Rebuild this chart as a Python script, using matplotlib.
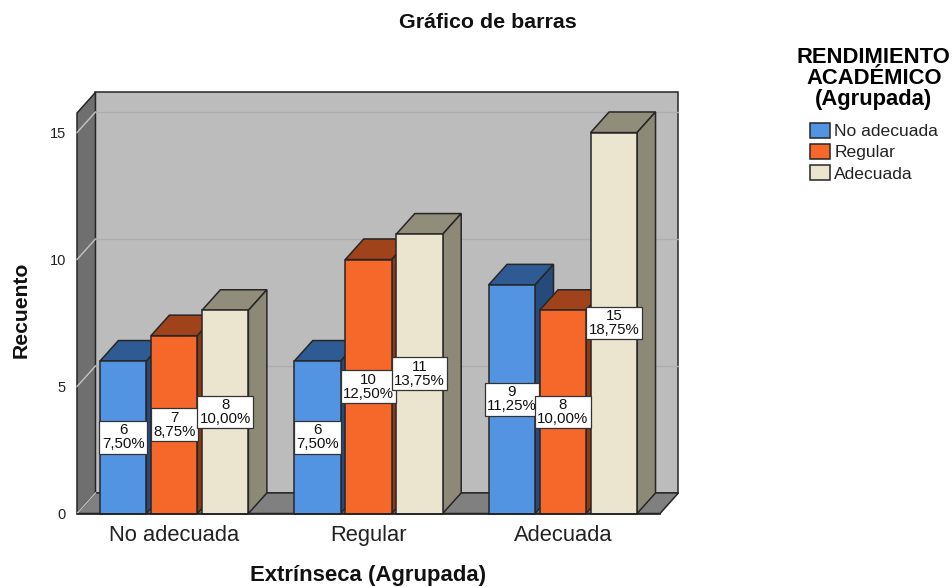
import matplotlib
matplotlib.use("Agg")
import matplotlib.pyplot as plt
from matplotlib.patches import Polygon, Patch

plt.rcParams['font.family'] = ['Liberation Sans', 'DejaVu Sans']

categories = ["No adecuada", "Regular", "Adecuada"]
series_names = ["No adecuada", "Regular", "Adecuada"]
no_adecuada = [6, 6, 9]
regular = [7, 10, 8]
adecuada = [8, 11, 15]
pct_no_adecuada = ["7,50%", "7,50%", "11,25%"]
pct_regular = ["8,75%", "12,50%", "10,00%"]
pct_adecuada = ["10,00%", "13,75%", "18,75%"]
y_ticks = [0, 5, 10, 15]

W, H = 953, 587
fig = plt.figure(figsize=(W / 100, H / 100), dpi=100)
ax = fig.add_axes([77 / W, 1 - 513.5 / H, 583 / W, 400.5 / H])
XMIN, XMAX, YMAX = -0.5, 2.5, 15.77
ax.set_xlim(XMIN, XMAX)
ax.set_ylim(0, YMAX)
for s in ax.spines.values():
    s.set_visible(False)

DX, DY = 0.095, 0.81          # depth of the pseudo-3D projection, in data units
BAR_W, BAR_STEP = 0.239, 0.2625
EDGE = "#262626"
LW = 1.1

def poly(points, fc, z, ec=EDGE, lw=LW):
    ax.add_patch(Polygon(points, closed=True, facecolor=fc, edgecolor=ec,
                         linewidth=lw, zorder=z, clip_on=False, joinstyle="miter"))

# walls and floor
poly([(XMIN + DX, DY), (XMAX + DX, DY), (XMAX + DX, YMAX + DY), (XMIN + DX, YMAX + DY)], "#bcbcbc", 1)
poly([(XMIN, 0), (XMIN + DX, DY), (XMIN + DX, YMAX + DY), (XMIN, YMAX)], "#6f6f6f", 1.1)
poly([(XMIN, 0), (XMAX, 0), (XMAX + DX, DY), (XMIN + DX, DY)], "#808080", 1.1)

for v in y_ticks:
    ax.plot([XMIN, XMIN + DX], [v, v + DY], color="#c4c4c4", lw=1.0, zorder=1.5, clip_on=False)
    if v > 0:
        ax.plot([XMIN + DX, XMAX + DX], [v + DY, v + DY], color="#adadad", lw=1.0,
                zorder=1.5, clip_on=False)

styles = [
    (no_adecuada, pct_no_adecuada, "#5294e2", "#2f5b94", "#274a7c"),
    (regular, pct_regular, "#f5682a", "#a0431a", "#8e3a15"),
    (adecuada, pct_adecuada, "#ebe5d0", "#918d7b", "#8d8977"),
]

z = 2.0
for s_i, (vals, pcts, front, top, side) in enumerate(styles):
    offset = (s_i - 1) * BAR_STEP
    for c_i, v in enumerate(vals):
        x0 = c_i + offset - BAR_W / 2
        x1 = x0 + BAR_W
        poly([(x0, v), (x1, v), (x1 + DX, v + DY), (x0 + DX, v + DY)], top, z)
        poly([(x1, 0), (x1 + DX, DY), (x1 + DX, v + DY), (x1, v)], side, z)
        ax.bar(c_i + offset, v, width=BAR_W, color=front, edgecolor=EDGE,
               linewidth=LW, zorder=z + 0.01, clip_on=False)
        ax.text(c_i + offset, v / 2, f"{v}\n{pcts[c_i]}", ha="center", va="center",
                fontsize=10.8, linespacing=1.0, color="#111111", zorder=10,
                bbox=dict(boxstyle="square,pad=0.16", facecolor="white",
                          edgecolor="#333333", linewidth=0.9))
    z += 0.1

ax.plot([XMIN, XMAX], [0, 0], color="#222222", lw=1.2, zorder=5, clip_on=False)

ax.set_xticks(range(len(categories)))
ax.set_xticklabels(categories, fontsize=15.8, color="#222222")
ax.set_yticks(y_ticks)
ax.set_yticklabels([str(v) for v in y_ticks], fontsize=10.5, color="#222222")
ax.tick_params(axis="both", length=0)
ax.tick_params(axis="x", pad=8)
ax.tick_params(axis="y", pad=8)

fig.text(488 / W, 1 - 22 / H, "Gráfico de barras", fontsize=15.4, fontweight="bold",
         ha="center", va="center", color="#111111")
fig.text(368 / W, 1 - 575 / H, "Extrínseca (Agrupada)", fontsize=15.9, fontweight="bold",
         ha="center", va="center", color="#111111")
fig.text(21 / W, 1 - 310 / H, "Recuento", fontsize=15.2, fontweight="bold", rotation=90,
         ha="center", va="center", color="#111111")

handles = [Patch(facecolor=c, edgecolor="#262626", linewidth=1.1)
           for c in ["#5294e2", "#f5682a", "#ebe5d0"]]
leg = fig.legend(handles, series_names,
                 title="RENDIMIENTO\nACADÉMICO\n(Agrupada)",
                 loc="upper left", bbox_to_anchor=(797 / W, 1 - 47 / H),
                 frameon=False, fontsize=12.6, handlelength=1.15, handleheight=0.95,
                 handletextpad=0.25, labelspacing=0.27, borderpad=0, borderaxespad=0,
                 title_fontproperties={"size": 15.8, "weight": "bold"}, alignment="center")
leg.get_title().set_linespacing(1.0)
leg.get_title().set_multialignment("center")
leg._legend_box.sep = 9
for t in leg.get_texts():
    t.set_color("#222222")

fig.savefig("out.png", dpi=100)
